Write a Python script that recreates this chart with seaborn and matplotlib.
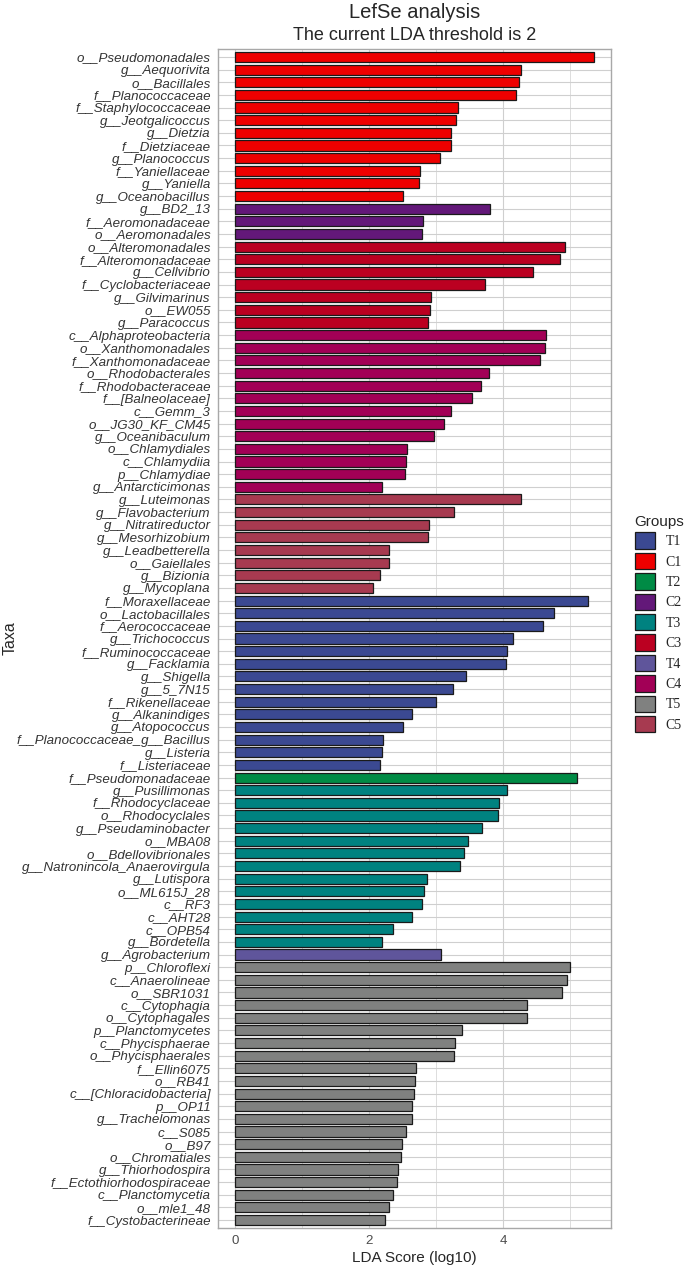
import pandas as pd
import matplotlib
matplotlib.use("Agg")
import matplotlib.pyplot as plt
from matplotlib.ticker import MultipleLocator
import seaborn as sns

# ---------------- DATA ---------------- #

taxa = [
    "o__Pseudomonadales", "g__Aequorivita", "o__Bacillales", "f__Planococcaceae",
    "f__Staphylococcaceae", "g__Jeotgalicoccus", "g__Dietzia", "f__Dietziaceae",
    "g__Planococcus", "f__Yaniellaceae", "g__Yaniella", "g__Oceanobacillus",
    "g__BD2_13", "f__Aeromonadaceae", "o__Aeromonadales",
    "o__Alteromonadales", "f__Alteromonadaceae", "g__Cellvibrio", "f__Cyclobacteriaceae",
    "g__Gilvimarinus", "o__EW055", "g__Paracoccus",
    "c__Alphaproteobacteria", "o__Xanthomonadales", "f__Xanthomonadaceae",
    "o__Rhodobacterales", "f__Rhodobacteraceae", "f__[Balneolaceae]", "c__Gemm_3",
    "o__JG30_KF_CM45", "g__Oceanibaculum", "o__Chlamydiales", "c__Chlamydiia",
    "p__Chlamydiae", "g__Antarcticimonas",
    "g__Luteimonas", "g__Flavobacterium", "g__Nitratireductor", "g__Mesorhizobium",
    "g__Leadbetterella", "o__Gaiellales", "g__Bizionia", "g__Mycoplana",
    "f__Moraxellaceae", "o__Lactobacillales", "f__Aerococcaceae", "g__Trichococcus",
    "f__Ruminococcaceae", "g__Facklamia", "g__Shigella", "g__5_7N15",
    "f__Rikenellaceae", "g__Alkanindiges", "g__Atopococcus",
    "f__Planococcaceae_g__Bacillus", "g__Listeria", "f__Listeriaceae",
    "f__Pseudomonadaceae",
    "g__Pusillimonas", "f__Rhodocyclaceae", "o__Rhodocyclales", "g__Pseudaminobacter",
    "o__MBA08", "o__Bdellovibrionales", "g__Natronincola_Anaerovirgula", "g__Lutispora",
    "o__ML615J_28", "c__RF3", "c__AHT28", "c__OPB54", "g__Bordetella",
    "g__Agrobacterium",
    "p__Chloroflexi", "c__Anaerolineae", "o__SBR1031", "c__Cytophagia", "o__Cytophagales",
    "p__Planctomycetes", "c__Phycisphaerae", "o__Phycisphaerales", "f__Ellin6075",
    "o__RB41", "c__[Chloracidobacteria]", "p__OP11", "g__Trachelomonas", "c__S085",
    "o__B97", "o__Chromatiales", "g__Thiorhodospira", "f__Ectothiorhodospiraceae",
    "c__Planctomycetia", "o__mle1_48", "f__Cystobacterineae",
]

lda = [
    5.35, 4.26, 4.24, 4.19, 3.33, 3.29, 3.22, 3.22, 3.06, 2.75, 2.74, 2.50,
    3.80, 2.80, 2.79,
    4.92, 4.84, 4.45, 3.72, 2.92, 2.90, 2.88,
    4.63, 4.62, 4.55, 3.78, 3.67, 3.54, 3.22, 3.11, 2.97, 2.56, 2.55, 2.53, 2.19,
    4.26, 3.26, 2.89, 2.87, 2.30, 2.29, 2.16, 2.06,
    5.26, 4.76, 4.59, 4.14, 4.05, 4.04, 3.45, 3.25, 3.00, 2.64, 2.51, 2.21, 2.19, 2.16,
    5.10,
    4.05, 3.94, 3.92, 3.68, 3.48, 3.42, 3.36, 2.86, 2.82, 2.79, 2.63, 2.35, 2.19,
    3.07,
    4.99, 4.95, 4.87, 4.36, 4.36, 3.38, 3.28, 3.27, 2.69, 2.68, 2.66, 2.64, 2.63,
    2.55, 2.49, 2.48, 2.43, 2.41, 2.36, 2.30, 2.24,
]

groups = (["C1"] * 12 + ["C2"] * 3 + ["C3"] * 7 + ["C4"] * 13 + ["C5"] * 8
          + ["T1"] * 14 + ["T2"] * 1 + ["T3"] * 13 + ["T4"] * 1 + ["T5"] * 21)

legend_order = ["T1", "C1", "T2", "C2", "T3", "C3", "T4", "C4", "T5", "C5"]
group_colors = ["#3B4992", "#EE0000", "#008B45", "#631879", "#008280",
                "#BB0021", "#5F559B", "#A20056", "#808180", "#A73A50"]

df = pd.DataFrame({"taxa": taxa, "lda": lda, "group": groups})
palette = dict(zip(legend_order, group_colors))

# ---------------- PLOT ---------------- #

sns.set_style("white")
plt.rcParams["font.family"] = ["Liberation Sans", "DejaVu Sans"]

W, H = 685, 1267
fig = plt.figure(figsize=(W / 100, H / 100), dpi=100)
ax = fig.add_axes([218 / W, 1 - 1227.6 / H, (611 - 218) / W, (1227.6 - 49.4) / H])

sns.barplot(data=df, x="lda", y="taxa", hue="group", hue_order=legend_order,
            palette=palette, dodge=False, width=0.8, orient="h",
            edgecolor="#1A1A1A", linewidth=0.9, saturation=1, ax=ax)

n = len(taxa)
ax.set_ylim(n - 1 + 0.6, -0.6)
ax.set_xlim(-0.258, 5.607)
ax.xaxis.set_major_locator(MultipleLocator(2))
ax.xaxis.set_minor_locator(MultipleLocator(1))

# grid behind the bars
ax.set_axisbelow(True)
ax.grid(which="major", color="#CFCFCF", linewidth=0.8)
ax.grid(which="minor", axis="x", color="#D8D8D8", linewidth=0.6)
for s in ax.spines.values():
    s.set_color("#A8A8A8")
    s.set_linewidth(1.0)

ax.tick_params(axis="y", length=2.9, width=0.7, color="#999999", pad=2.2,
               labelsize=9.6, labelcolor="#333333")
ax.tick_params(axis="x", which="major", length=2.9, width=0.7, color="#999999",
               pad=2.5, labelsize=9.6, labelcolor="#4D4D4D")
ax.tick_params(axis="x", which="minor", length=0)
for lab in ax.get_yticklabels():
    lab.set_fontstyle("italic")

ax.set_xlabel("LDA Score (log10)", fontsize=11, labelpad=3)
ax.set_ylabel("")
fig.text(10 / W, 1 - 638 / H, "Taxa", rotation=90, ha="center", va="center", fontsize=11.5)

# titles
fig.text(414.5 / W, 1 - 12 / H, "LefSe analysis", ha="center", va="center", fontsize=14.5)
fig.text(414.5 / W, 1 - 35 / H, "The current LDA threshold is 2", ha="center",
         va="center", fontsize=13)

# legend
handles, labels = ax.get_legend_handles_labels()
ax.get_legend().remove()
leg = fig.legend(handles, labels, title="Groups", loc="upper left",
                 bbox_to_anchor=(629 / W, 1 - 509 / H), frameon=False,
                 prop={"family": "Liberation Serif", "size": 10},
                 handlelength=1.45, handleheight=1.45, labelspacing=0.28,
                 handletextpad=0.8, borderaxespad=0, alignment="left")
leg.get_title().set_fontsize(11)

fig.savefig("out.png", dpi=100)
